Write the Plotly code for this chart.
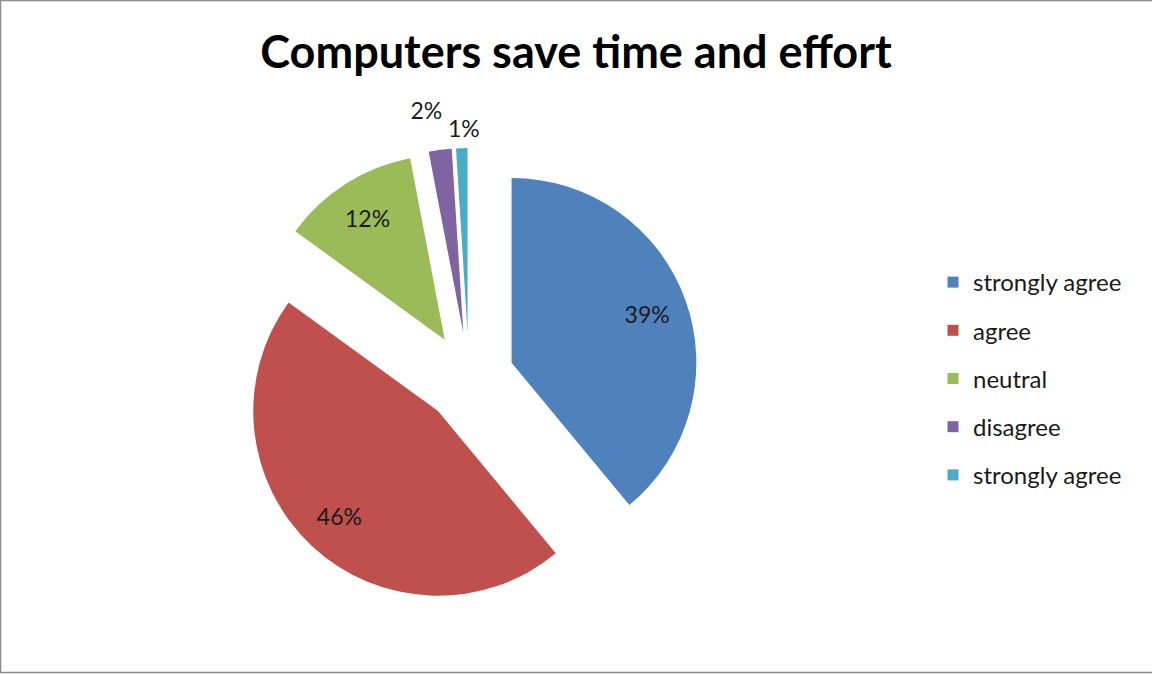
import plotly.graph_objects as go

# Survey responses: "Computers save time and effort"
categories = ["strongly agree", "agree", "neutral", "disagree", "strongly agree"]
shares = [39, 46, 12, 2, 1]
colors = ["#4F81BD", "#C0504D", "#9BBB59", "#8064A2", "#4BACC6"]

W, H = 1152, 674
FONT = "Lato, 'Open Sans', sans-serif"
TEXT = "#1a1a1a"
EXPLODE = 0.245
PIE_X = (239, 699)   # pie domain, pixels from the left
PIE_Y = (66, 526)    # pie domain, pixels from the bottom

# nudges (px right, px up) for the labels of the two thin slices
SMALL_LABEL_SHIFT = {3: (9, 26), 4: (25, 6)}


def domain(dx=0, dy=0):
    return dict(x=[(PIE_X[0] + dx) / W, (PIE_X[1] + dx) / W],
                y=[(PIE_Y[0] + dy) / H, (PIE_Y[1] + dy) / H])


# pie slices need distinct labels, so repeated names get a trailing space
slice_labels = []
for name in categories:
    lab = name
    while lab in slice_labels:
        lab += " "
    slice_labels.append(lab)

common = dict(
    labels=slice_labels, values=shares, sort=False, direction="clockwise",
    rotation=0, pull=[EXPLODE] * len(shares), showlegend=False,
)

fig = go.Figure()

# the exploded pie itself
fig.add_trace(go.Pie(
    **common, domain=domain(),
    marker=dict(colors=colors, line=dict(width=0)),
    textinfo="none",
    hovertemplate="%{label}: %{percent:.0%}<extra></extra>",
))

# percentage labels: a transparent ring pushes the big-slice labels outward
clear = dict(colors=["rgba(0,0,0,0)"] * len(shares), line=dict(width=0))
n = len(shares)
big = ["inside" if v >= 5 else "none" for v in shares]
fig.add_trace(go.Pie(
    **common, domain=domain(), hole=0.56, marker=clear,
    texttemplate="%{percent:.0%}", textposition=big,
    insidetextorientation="horizontal",
    textfont=dict(family=FONT, size=23, color=TEXT),
    hoverinfo="skip",
))
# small slices get their labels outside, one trace each so they sit freely
for i, v in enumerate(shares):
    if v >= 5:
        continue
    pos = ["none"] * n
    pos[i] = "outside"
    dx, dy = SMALL_LABEL_SHIFT.get(i, (0, 0))
    fig.add_trace(go.Pie(
        **common, domain=domain(dx, dy), marker=clear,
        texttemplate="%{percent:.0%}", textposition=pos,
        textfont=dict(family=FONT, size=23, color=TEXT),
        hoverinfo="skip",
    ))

# legend entries, one per response category
for i, (name, c) in enumerate(zip(categories, colors)):
    fig.add_trace(go.Scatter(
        x=[None], y=[None], mode="markers",
        marker=dict(symbol="square", size=11, color=c),
        name=name, legendgroup=f"g{i}", showlegend=True,
    ))

fig.update_layout(
    width=W, height=H,
    margin=dict(l=0, r=0, t=0, b=0, autoexpand=False),
    paper_bgcolor="white", plot_bgcolor="white",
    title=dict(
        text="<b>Computers save time and effort</b>",
        x=0.5, xanchor="center", y=1 - 52 / H, yanchor="middle",
        font=dict(family=FONT, size=45, color="black"),
    ),
    xaxis=dict(visible=False), yaxis=dict(visible=False),
    legend=dict(
        x=933 / W, y=1 - 260 / H, xanchor="left", yanchor="top",
        font=dict(family=FONT, size=24, color=TEXT),
        tracegroupgap=14, itemwidth=30, bgcolor="rgba(0,0,0,0)",
    ),
    shapes=[dict(
        type="rect", xref="paper", yref="paper",
        x0=0.5 / W, x1=1.01, y0=1.5 / H, y1=1 - 0.5 / H,
        line=dict(color="#8c8c8c", width=1.5),
    )],
)

fig.write_html("out.html")
